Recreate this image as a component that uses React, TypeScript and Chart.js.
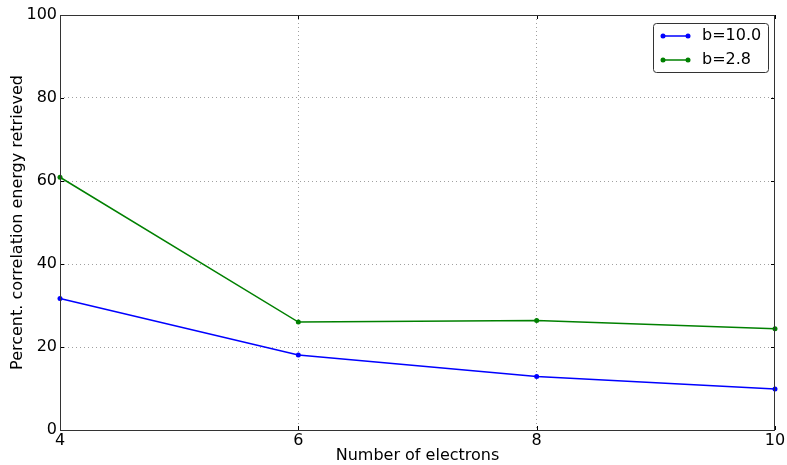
import React, { useEffect, useRef } from "react";
import { Chart, registerables } from "chart.js";

Chart.register(...registerables);

const electrons = [4, 6, 8, 10];
const seriesB10 = [31.7, 18.1, 12.9, 9.9];
const seriesB28 = [60.9, 26.0, 26.4, 24.4];
const seriesLabels = ["b=10.0", "b=2.8"];
const seriesColors = ["#0000ff", "#008000"];
const xTicks = [4, 6, 8, 10];
const yTicks = [0, 20, 40, 60, 80, 100];

const FONT = "'DejaVu Sans', sans-serif";

const framePlugin = {
  id: "frame",
  afterDatasetsDraw(chart: any) {
    const { ctx, chartArea: a, scales } = chart;
    ctx.save();
    ctx.strokeStyle = "#000";
    ctx.lineWidth = 1;
    ctx.beginPath();
    xTicks.forEach((t) => {
      const x = Math.round(scales.x.getPixelForValue(t)) + 0.5;
      ctx.moveTo(x, a.bottom);
      ctx.lineTo(x, a.bottom - 4);
      ctx.moveTo(x, a.top);
      ctx.lineTo(x, a.top + 4);
    });
    yTicks.forEach((t) => {
      const y = Math.round(scales.y.getPixelForValue(t)) + 0.5;
      ctx.moveTo(a.left, y);
      ctx.lineTo(a.left + 4, y);
      ctx.moveTo(a.right, y);
      ctx.lineTo(a.right - 4, y);
    });
    ctx.stroke();
    ctx.strokeStyle = "#333";
    ctx.strokeRect(a.left + 0.5, a.top + 0.5, a.right - a.left - 1, a.bottom - a.top);
    // legend
    const lx = 653, ly = 23, lw = 115, lh = 49;
    ctx.fillStyle = "#fff";
    ctx.strokeStyle = "#333";
    ctx.lineWidth = 1;
    ctx.beginPath();
    (ctx as any).roundRect(lx + 0.5, ly + 0.5, lw, lh, 3);
    ctx.fill();
    ctx.stroke();
    const rows = [36, 60];
    rows.forEach((ry, i) => {
      ctx.strokeStyle = seriesColors[i];
      ctx.fillStyle = seriesColors[i];
      ctx.lineWidth = 1.5;
      ctx.beginPath();
      ctx.moveTo(663, ry);
      ctx.lineTo(688, ry);
      ctx.stroke();
      [663, 688].forEach((mx) => {
        ctx.beginPath();
        ctx.arc(mx, ry, 2.5, 0, Math.PI * 2);
        ctx.fill();
      });
      ctx.fillStyle = "#000";
      ctx.font = `16px ${FONT}`;
      ctx.textAlign = "left";
      ctx.textBaseline = "middle";
      ctx.fillText(seriesLabels[i], 702, ry);
    });
    ctx.restore();
  },
};

export default function App() {
  const ref = useRef<HTMLCanvasElement>(null);
  useEffect(() => {
    document.body.style.margin = "0";
    const gridColor = (edge: number[]) => (c: any) =>
      c.tick && edge.includes(c.tick.value) ? "rgba(0,0,0,0)" : "#a0a0a0";
    const chart = new Chart(ref.current!, {
      type: "line",
      data: {
        datasets: [
          {
            label: seriesLabels[0],
            data: electrons.map((x, i) => ({ x, y: seriesB10[i] })),
            borderColor: seriesColors[0],
            backgroundColor: seriesColors[0],
            borderWidth: 1.5,
            pointRadius: 2.5,
            pointBorderWidth: 0,
            pointHoverRadius: 2.5,
            tension: 0,
          },
          {
            label: seriesLabels[1],
            data: electrons.map((x, i) => ({ x, y: seriesB28[i] })),
            borderColor: seriesColors[1],
            backgroundColor: seriesColors[1],
            borderWidth: 1.5,
            pointRadius: 2.5,
            pointBorderWidth: 0,
            pointHoverRadius: 2.5,
            tension: 0,
          },
        ],
      },
      options: {
        animation: false,
        responsive: false,
        events: [],
        clip: false as any,
        layout: { padding: { left: 0, right: 12, top: 15, bottom: 0 } },
        plugins: { legend: { display: false }, tooltip: { enabled: false } },
        scales: {
          x: {
            type: "linear",
            min: 4,
            max: 10,
            afterBuildTicks: (s: any) => {
              s.ticks = xTicks.map((v) => ({ value: v }));
            },
            afterFit: (s: any) => {
              s.height = 35;
            },
            border: { display: false, dash: [1, 3] },
            grid: {
              color: gridColor([4, 10]),
              drawTicks: false,
              lineWidth: 1,
            },
            ticks: {
              color: "#000",
              font: { family: FONT, size: 16 },
              padding: 1,
              maxRotation: 0,
              autoSkip: false,
              callback: (v: any) => String(v),
            },
            title: {
              display: true,
              text: "Number of electrons",
              color: "#000",
              font: { family: FONT, size: 16 },
              padding: { top: 0, bottom: 0 },
            },
          },
          y: {
            type: "linear",
            min: 0,
            max: 100,
            afterBuildTicks: (s: any) => {
              s.ticks = yTicks.map((v) => ({ value: v }));
            },
            afterFit: (s: any) => {
              s.width = 60;
            },
            border: { display: false, dash: [1, 3] },
            grid: {
              color: gridColor([0, 100]),
              drawTicks: false,
              lineWidth: 1,
            },
            ticks: {
              color: "#000",
              font: { family: FONT, size: 16 },
              padding: 3,
              autoSkip: false,
              callback: (v: any) => String(v),
            },
            title: {
              display: true,
              text: "Percent. correlation energy retrieved",
              color: "#000",
              font: { family: FONT, size: 16 },
              padding: { top: 8, bottom: 2 },
            },
          },
        },
      },
      plugins: [framePlugin],
    });
    return () => chart.destroy();
  }, []);
  return (
    <div style={{ position: "absolute", left: 0, top: 0, width: 787, height: 465 }}>
      <canvas ref={ref} width={787} height={465} />
    </div>
  );
}
